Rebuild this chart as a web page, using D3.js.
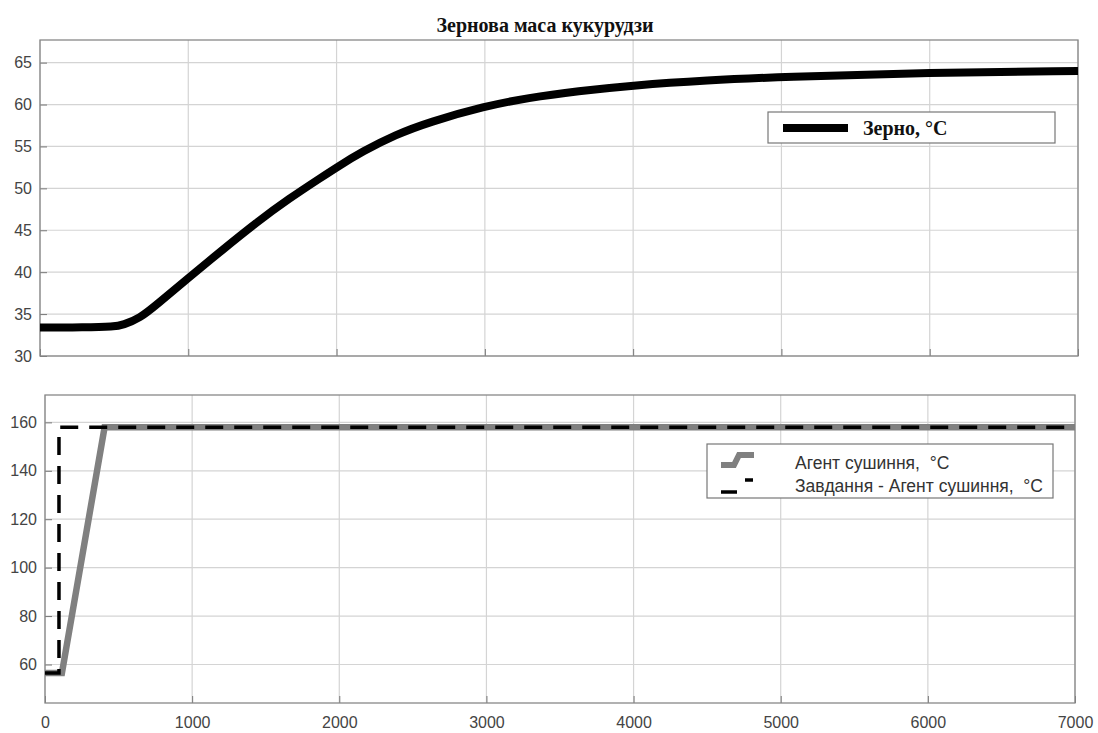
<!DOCTYPE html>
<html>
<head>
<meta charset="utf-8">
<script src="https://cdn.jsdelivr.net/npm/d3@7"></script>
<style>
  body { margin: 0; background: #fff; }
  svg { display: block; }
  .tick text { font-family: "Liberation Sans", Arial, sans-serif; font-size: 16px; fill: #444; }
  .pre { white-space: pre; }
</style>
</head>
<body>
<svg></svg>
<script>
const WIDTH = 1098;
const HEIGHT = 733;

// top panel: grain temperature
const grainTime = [0, 300, 500, 560, 673, 785, 1000, 1233, 1457, 1681, 1905, 2000, 2174, 2398, 2622, 3000, 3291, 3627, 4000, 4500, 5000, 6000, 7000];
const grainTemp = [33.4, 33.4, 33.5, 33.7, 34.5, 36.1, 39.3, 42.7, 45.9, 48.8, 51.4, 52.5, 54.4, 56.4, 57.9, 59.8, 60.8, 61.6, 62.3, 62.9, 63.3, 63.8, 64.0];

// bottom panel: drying agent and its setpoint
const agentTime = [0, 115, 405, 7000];
const agentTemp = [56.5, 56.5, 158, 158];
const setTime = [0, 95, 95, 7000];
const setTemp = [56.5, 56.5, 158, 158];

const xTicks = [0, 1000, 2000, 3000, 4000, 5000, 6000, 7000];
const topYTicks = [30, 35, 40, 45, 50, 55, 60, 65];
const botYTicks = [60, 80, 100, 120, 140, 160];

const svg = d3.select('svg').attr('width', WIDTH).attr('height', HEIGHT);

function panel(box, xDomain, yDomain, yTicks, showX) {
  const x = d3.scaleLinear().domain(xDomain).range([box.left, box.right]);
  const y = d3.scaleLinear().domain(yDomain).range([box.bottom, box.top]);
  const g = svg.append('g');

  // grid
  g.selectAll('.gx').data(xTicks).enter().append('line')
    .attr('x1', (d) => x(d)).attr('x2', (d) => x(d))
    .attr('y1', box.top).attr('y2', box.bottom)
    .attr('stroke', '#d4d4d4').attr('stroke-width', 1.2);
  g.selectAll('.gy').data(yTicks).enter().append('line')
    .attr('x1', box.left).attr('x2', box.right)
    .attr('y1', (d) => y(d)).attr('y2', (d) => y(d))
    .attr('stroke', '#d4d4d4').attr('stroke-width', 1.2);

  // axes (ticks inward, MATLAB style)
  const yAxis = g.append('g').attr('transform', `translate(${box.left},0)`)
    .call(d3.axisLeft(y).tickValues(yTicks).tickSizeInner(-7).tickSizeOuter(0).tickPadding(8));
  yAxis.select('.domain').remove();
  yAxis.selectAll('.tick line').attr('stroke', '#777');

  const xAxis = g.append('g').attr('transform', `translate(0,${box.bottom})`)
    .call(d3.axisBottom(x).tickValues(xTicks).tickSizeInner(-7).tickSizeOuter(0).tickPadding(14)
      .tickFormat(d3.format('d')));
  xAxis.select('.domain').remove();
  xAxis.selectAll('.tick line').attr('stroke', '#777');
  if (!showX) xAxis.selectAll('.tick text').remove();

  g.append('rect')
    .attr('x', box.left).attr('y', box.top)
    .attr('width', box.right - box.left).attr('height', box.bottom - box.top)
    .attr('fill', 'none').attr('stroke', '#888').attr('stroke-width', 1.3);

  const clipId = 'clip' + Math.round(box.top);
  svg.append('clipPath').attr('id', clipId).append('rect')
    .attr('x', box.left).attr('y', box.top - 5)
    .attr('width', box.right - box.left).attr('height', box.bottom - box.top + 10);

  return { x, y, g, clipId };
}

const serif = '"Liberation Serif", "Times New Roman", serif';
const sans = '"Liberation Sans", Arial, sans-serif';

// top panel
const topPanel = panel({ left: 40, right: 1078, top: 40, bottom: 356 }, [0, 7000], [30, 67.7], topYTicks, false);
topPanel.g.append('path')
  .datum(grainTime.map((t, i) => [t, grainTemp[i]]))
  .attr('clip-path', `url(#${topPanel.clipId})`)
  .attr('d', d3.line().x((d) => topPanel.x(d[0])).y((d) => topPanel.y(d[1])).curve(d3.curveBasis))
  .attr('fill', 'none').attr('stroke', '#000').attr('stroke-width', 8);

svg.append('text')
  .attr('x', 545).attr('y', 32).attr('text-anchor', 'middle')
  .attr('font-family', serif)
  .attr('font-weight', 'bold').attr('font-size', 20).attr('fill', '#111')
  .text('Зернова маса кукурудзи');

// top legend
const lg1 = svg.append('g');
lg1.append('rect').attr('x', 768).attr('y', 112).attr('width', 287).attr('height', 31)
  .attr('fill', '#fff').attr('stroke', '#777').attr('stroke-width', 1.2);
lg1.append('line').attr('x1', 783).attr('x2', 848).attr('y1', 128).attr('y2', 128)
  .attr('stroke', '#000').attr('stroke-width', 8);
lg1.append('text').attr('x', 863).attr('y', 135)
  .attr('font-family', serif)
  .attr('font-weight', 'bold').attr('font-size', 20).attr('fill', '#111')
  .text('Зерно, °С');

// bottom panel
const botPanel = panel({ left: 45, right: 1075, top: 395, bottom: 703 }, [0, 7000], [44.1, 171.3], botYTicks, true);
const line2 = d3.line().x((d) => botPanel.x(d[0])).y((d) => botPanel.y(d[1]));
botPanel.g.append('path')
  .datum(agentTime.map((t, i) => [t, agentTemp[i]]))
  .attr('clip-path', `url(#${botPanel.clipId})`)
  .attr('d', line2)
  .attr('fill', 'none').attr('stroke', '#808080').attr('stroke-width', 6.5);
botPanel.g.append('path')
  .datum(setTime.map((t, i) => [t, setTemp[i]]))
  .attr('clip-path', `url(#${botPanel.clipId})`)
  .attr('d', line2)
  .attr('fill', 'none').attr('stroke', '#000').attr('stroke-width', 3.5)
  .attr('stroke-dasharray', '18,11');

// bottom legend
const lg2 = svg.append('g');
lg2.append('rect').attr('x', 707).attr('y', 444).attr('width', 346).attr('height', 54)
  .attr('fill', '#fff').attr('stroke', '#777').attr('stroke-width', 1.2);
lg2.append('path').attr('d', 'M721,465 H734 L739,455 H754')
  .attr('fill', 'none').attr('stroke', '#808080').attr('stroke-width', 6);
lg2.append('line').attr('x1', 721).attr('x2', 737).attr('y1', 492).attr('y2', 492)
  .attr('stroke', '#000').attr('stroke-width', 3.5);
lg2.append('line').attr('x1', 745).attr('x2', 753).attr('y1', 480).attr('y2', 480)
  .attr('stroke', '#000').attr('stroke-width', 3.5);
lg2.append('text').attr('class', 'pre').attr('x', 795).attr('y', 469)
  .attr('font-family', sans).attr('font-size', 17.5).attr('fill', '#333')
  .text('Агент сушиння,  °С');
lg2.append('text').attr('class', 'pre').attr('x', 795).attr('y', 492)
  .attr('font-family', sans).attr('font-size', 17.5).attr('fill', '#333')
  .text('Завдання - Агент сушиння,  °С');
</script>
</body>
</html>
